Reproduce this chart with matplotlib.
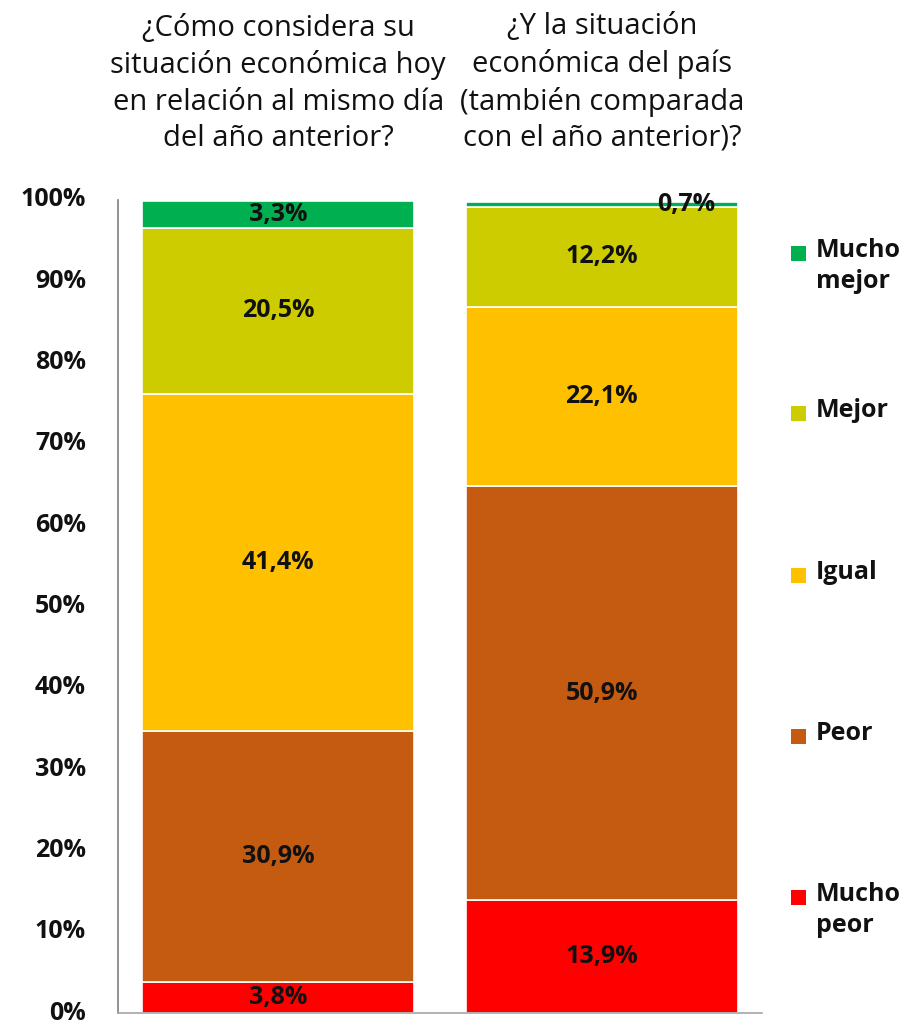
import matplotlib
matplotlib.use("Agg")
import matplotlib.pyplot as plt
from matplotlib.patches import Rectangle

# ---- data ----
questions = [
    "¿Cómo considera su\nsituación económica hoy\nen relación al mismo día\ndel año anterior?",
    "¿Y la situación\neconómica del país\n(también comparada\ncon el año anterior)?",
]
categories = ["Mucho peor", "Peor", "Igual", "Mejor", "Mucho mejor"]
legend_labels = ["Mucho\npeor", "Peor", "Igual", "Mejor", "Mucho\nmejor"]
colors = ["#FF0000", "#C55A11", "#FFC000", "#CCCC00", "#00B050"]
mucho_peor = [3.8, 13.9]
peor = [30.9, 50.9]
igual = [41.4, 22.1]
mejor = [20.5, 12.2]
mucho_mejor = [3.3, 0.7]
series = [mucho_peor, peor, igual, mejor, mucho_mejor]
yticks = [0, 10, 20, 30, 40, 50, 60, 70, 80, 90, 100]
ytick_labels = [f"{v}%" for v in yticks]

plt.rcParams['font.family'] = ['Open Sans', 'DejaVu Sans']

fig = plt.figure(figsize=(9.22, 10.24), dpi=100)
ax = fig.add_axes([118/922, 11/1024, (762-118)/922, (1013-200)/1024])

x = [0, 1]
width = 0.842
bottoms = [0.0, 0.0]
for vals, col in zip(series, colors):
    ax.bar(x, vals, width, bottom=bottoms, color=col, edgecolor='white', linewidth=1.2)
    for i, v in enumerate(vals):
        cy = bottoms[i] + v / 2
        xo = x[i] + (0.26 if v < 2 else 0)
        ax.text(xo, cy, f"{v:.1f}%".replace('.', ','), ha='center', va='center',
                fontsize=18, fontweight='bold', color='#111111')
    bottoms = [b + v for b, v in zip(bottoms, vals)]

ax.set_xlim(-0.495, 1.495)
ax.set_ylim(0, 100)
ax.set_yticks(yticks)
ax.set_yticklabels(ytick_labels, fontsize=18, fontweight='bold', color='#111111',
                   va='center')
ax.tick_params(axis='y', length=0, pad=23)
ax.set_xticks([])
for s in ['top', 'right']:
    ax.spines[s].set_visible(False)
ax.spines['left'].set_color('#7f7f7f')
ax.spines['bottom'].set_color('#a6a6a6')
ax.spines['left'].set_linewidth(1.2)
ax.spines['bottom'].set_linewidth(1.2)

for i, q in enumerate(questions):
    ax.text(x[i], 1.058, q, transform=ax.get_xaxis_transform(), ha='center', va='bottom',
            fontsize=21, color='#111111', linespacing=1.33)

# legend (manual, top to bottom)
leg_y = [253, 413, 575, 736, 897]
for lab, col, yy in zip(legend_labels[::-1], colors[::-1], leg_y):
    fig.patches.append(Rectangle((791/922, 1 - (yy + 7.5)/1024), 15/922, 15/1024,
                                 transform=fig.transFigure, facecolor=col, edgecolor='none'))
    fig.text(816/922, 1 - (yy - 15)/1024, lab, ha='left', va='top', fontsize=18,
             fontweight='bold', color='#111111', linespacing=1.3)

fig.savefig("out.png", dpi=100, facecolor='white')
